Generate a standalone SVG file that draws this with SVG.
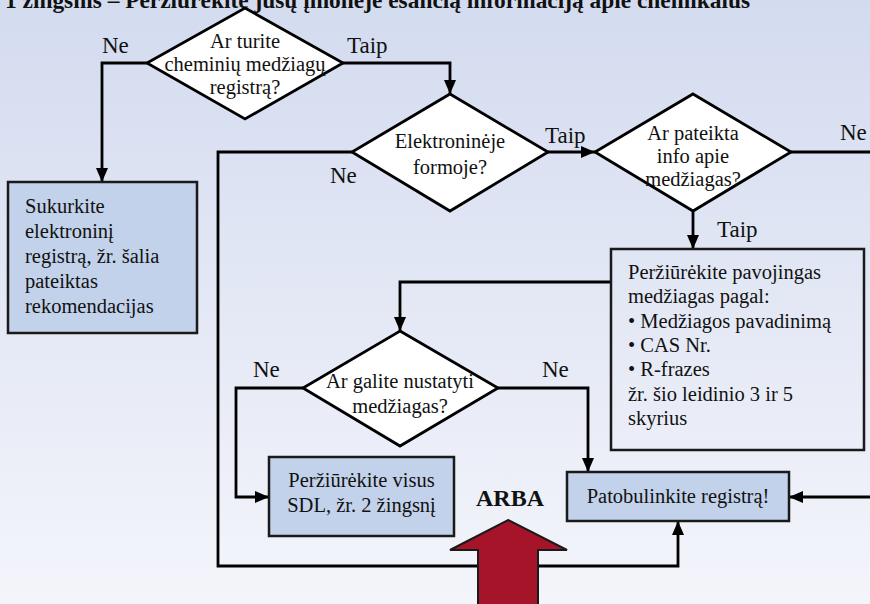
<svg xmlns="http://www.w3.org/2000/svg" width="870" height="604" viewBox="0 0 870 604">
<defs>
<linearGradient id="bg" x1="0" y1="0" x2="0" y2="1">
<stop offset="0" stop-color="#d3dbef"/>
<stop offset="1" stop-color="#f4f5fb"/>
</linearGradient>
<marker id="ah" viewBox="0 0 14 12" refX="14" refY="6" markerWidth="14" markerHeight="12" markerUnits="userSpaceOnUse" orient="auto">
<path d="M0,0 L14,6 L0,12 z" fill="#000"/>
</marker>
<style>
text{font-family:"Liberation Serif","Times New Roman",serif;fill:#111;}
.t{font-size:20.5px;}
.c{text-anchor:middle;}
.lbl{font-size:23px;}
.dia{fill:#fff;stroke:#000;stroke-width:2.8;stroke-linejoin:miter;}
.box{fill:#c3d2eb;stroke:#1a1a1a;stroke-width:2.5;}
.box2{fill:none;stroke:#1a1a1a;stroke-width:2.5;}
.con{fill:none;stroke:#000;stroke-width:2.8;}
.arr{marker-end:url(#ah);}
</style>
</defs>
<rect x="0" y="0" width="870" height="604" fill="url(#bg)"/>
<text x="5" y="8" font-size="23" font-weight="bold" textLength="745" lengthAdjust="spacingAndGlyphs">1 žingsnis – Peržiūrėkite jūsų įmonėje esančią informaciją apie chemikalus</text>

<g id="connectors">
<path class="con arr" d="M147,63 H102 V182"/>
<path class="con arr" d="M343,63 H450 V94"/>
<path class="con arr" d="M548,152 H595"/>
<path class="con arr" d="M352,152 H218 V566 H678 V521"/>
<path class="con arr" d="M791,152 H876 V497 H789"/>
<path class="con arr" d="M693,211 V249"/>
<path class="con arr" d="M611,282 H400 V331"/>
<path class="con arr" d="M303,388 H236 V497 H269"/>
<path class="con arr" d="M498,388 H588 V472"/>
</g>

<g id="labels" class="lbl">
<text x="102" y="53">Ne</text>
<text x="347" y="53">Taip</text>
<text x="330" y="183">Ne</text>
<text x="545" y="143">Taip</text>
<text x="840" y="140">Ne</text>
<text x="717" y="237">Taip</text>
<text x="253" y="377">Ne</text>
<text x="542" y="377">Ne</text>
</g>

<g id="d1">
<polygon class="dia" points="245,8 343,63 245,119 147,63"/>
<text class="t c" x="245" y="48">Ar turite</text>
<text class="t c" x="245" y="71">cheminių medžiagų</text>
<text class="t c" x="245" y="94">registrą?</text>
</g>

<g id="d2">
<polygon class="dia" points="450,94 548,152 450,211 352,152"/>
<text class="t c" x="450" y="148">Elektroninėje</text>
<text class="t c" x="450" y="174">formoje?</text>
</g>

<g id="d3">
<polygon class="dia" points="693,94 791,152 693,211 595,152"/>
<text class="t c" x="693" y="140">Ar pateikta</text>
<text class="t c" x="693" y="163">info apie</text>
<text class="t c" x="693" y="186">medžiagas?</text>
</g>

<g id="d4">
<polygon class="dia" points="400,331 498,388 400,446 303,388"/>
<text class="t c" x="400" y="388">Ar galite nustatyti</text>
<text class="t c" x="400" y="413">medžiagas?</text>
</g>

<g id="b1">
<rect class="box" x="8" y="182" width="189" height="151"/>
<text class="t" x="25" y="213">Sukurkite</text>
<text class="t" x="25" y="238">elektroninį</text>
<text class="t" x="25" y="263">registrą, žr. šalia</text>
<text class="t" x="25" y="288">pateiktas</text>
<text class="t" x="25" y="313">rekomendacijas</text>
</g>

<g id="b2">
<rect class="box2" x="611" y="249" width="253" height="201"/>
<text class="t" x="628" y="279">Peržiūrėkite pavojingas</text>
<text class="t" x="628" y="303">medžiagas pagal:</text>
<text class="t" x="628" y="328">• Medžiagos pavadinimą</text>
<text class="t" x="628" y="352">• CAS Nr.</text>
<text class="t" x="628" y="376">• R-frazes</text>
<text class="t" x="628" y="401">žr. šio leidinio 3 ir 5</text>
<text class="t" x="628" y="425">skyrius</text>
</g>

<g id="b3">
<rect class="box" x="269" y="457" width="185" height="79"/>
<text class="t c" x="361.5" y="487">Peržiūrėkite visus</text>
<text class="t c" x="361.5" y="512">SDL, žr. 2 žingsnį</text>
</g>

<g id="b4">
<rect class="box" x="567" y="472" width="222" height="49"/>
<text class="t c" x="678" y="503">Patobulinkite registrą!</text>
</g>

<g id="arba">
<text x="510" y="506" font-size="24" font-weight="bold" text-anchor="middle">ARBA</text>
<polygon points="508,520 567,550 538,550 538,608 478,608 478,550 450,550" fill="#a51428" stroke="#1a1a1a" stroke-width="2" stroke-linejoin="miter"/>
</g>
</svg>
